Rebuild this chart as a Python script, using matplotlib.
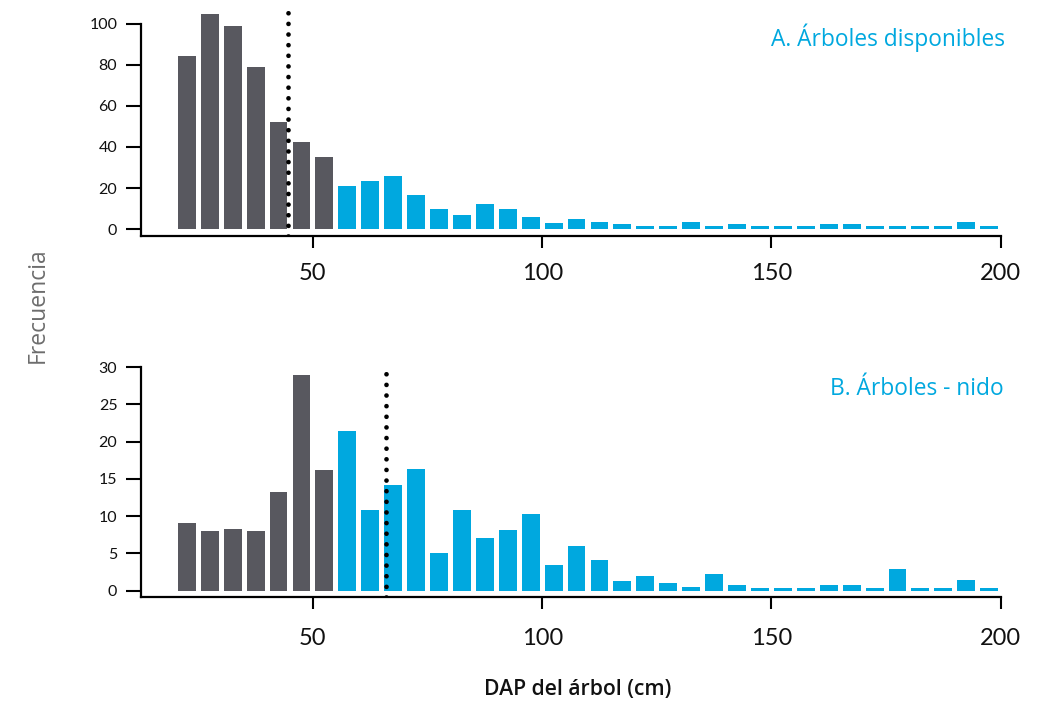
import matplotlib
matplotlib.use("Agg")
import matplotlib.pyplot as plt
import numpy as np

# DAP class midpoints (cm), 5 cm classes
dap_centers = [22.5 + 5 * i for i in range(36)]

# Frequencies per DAP class
freq_disponibles = [84.5, 104.5, 99, 79, 52, 42.5, 35, 21, 23.5, 26, 16.5, 10, 7, 12.5, 10, 6,
                    3, 5, 3.5, 2.5, 1.5, 1.5, 3.5, 1.5, 2.5, 1.5, 1.5, 1.5, 2.5, 2.5,
                    1.5, 1.5, 1.5, 1.5, 3.5, 1.5]
freq_nido = [9.1, 8.0, 8.3, 8.0, 13.3, 29.0, 16.2, 21.4, 10.9, 14.2, 16.3, 5.1, 10.9, 7.1, 8.2, 10.3,
             3.4, 6.0, 4.1, 1.3, 2.0, 1.0, 0.5, 2.2, 0.8, 0.4, 0.4, 0.4, 0.8, 0.8,
             0.4, 2.9, 0.4, 0.4, 1.4, 0.4]

# Classes below this many are shown in gray
n_small_classes = 7

# Reference DAP values marked with dotted lines
dap_ref_disponibles = 44.6
dap_ref_nido = 65.9

panel_titles = ["A. Árboles disponibles", "B. Árboles - nido"]
yticks_disponibles = [0, 20, 40, 60, 80, 100]
yticks_nido = [0, 5, 10, 15, 20, 25, 30]
xticks = [50, 100, 150, 200]

GRAY = "#58585f"
BLUE = "#00a8df"
TEXT_FONT = ["Open Sans", "DejaVu Sans"]
TICK_FONT = ["Lato", "DejaVu Sans"]

fig = plt.figure(figsize=(10.45, 7.04), dpi=100)
ax_a = fig.add_axes([0.1349, 0.6648, 0.8240, 0.3264])
ax_b = fig.add_axes([0.1349, 0.1524, 0.8240, 0.3270])

colors = [GRAY] * n_small_classes + [BLUE] * (len(dap_centers) - n_small_classes)


def style_panel(ax, freqs, yticks, ylim, ref, xpad):
    ax.bar(dap_centers, freqs, width=3.9, color=colors, linewidth=0)
    ax.set_xlim(12.5, 200.3)
    ax.set_ylim(*ylim)
    ax.axvline(ref, ymin=0, ymax=1, color="black", linewidth=3.4,
               linestyle=(0, (0.001, 2.25)), dash_capstyle="round", zorder=5)
    for side in ("top", "right"):
        ax.spines[side].set_visible(False)
    for side in ("left", "bottom"):
        ax.spines[side].set_linewidth(1.6)
        ax.spines[side].set_color("black")
    ax.spines["left"].set_bounds(ylim[0], yticks[-1])
    ax.spines["bottom"].set_bounds(12.5, 200)
    ax.set_yticks(yticks)
    ax.set_xticks(xticks)
    ax.tick_params(axis="y", length=11, width=1.5, pad=6, labelsize=11.5)
    ax.tick_params(axis="x", length=8.5, width=1.5, pad=xpad, labelsize=17)
    for lab in ax.get_yticklabels() + ax.get_xticklabels():
        lab.set_family(TICK_FONT)
        lab.set_color("#111111")


style_panel(ax_a, freq_disponibles, yticks_disponibles, (-3.3, 108.5), dap_ref_disponibles, 11)
style_panel(ax_b, freq_nido, yticks_nido, (-0.8, 30.1), dap_ref_nido, 14)

fig.text(0.962, 0.9347, panel_titles[0], ha="right", va="baseline",
         color=BLUE, fontsize=16.4, family=TEXT_FONT)
fig.text(0.960, 0.4389, panel_titles[1], ha="right", va="baseline",
         color=BLUE, fontsize=16.4, family=TEXT_FONT)
fig.text(0.0364, 0.567, "Frecuencia", rotation=90, ha="center", va="center",
         color="#6d6d6d", fontsize=16.5, family=TEXT_FONT)
fig.text(0.553, 0.0213, "DAP del árbol (cm)", ha="center", va="center",
         color="#111111", fontsize=15.2, fontweight="semibold", family=TEXT_FONT)

fig.savefig("out.png", dpi=100, facecolor="white")
